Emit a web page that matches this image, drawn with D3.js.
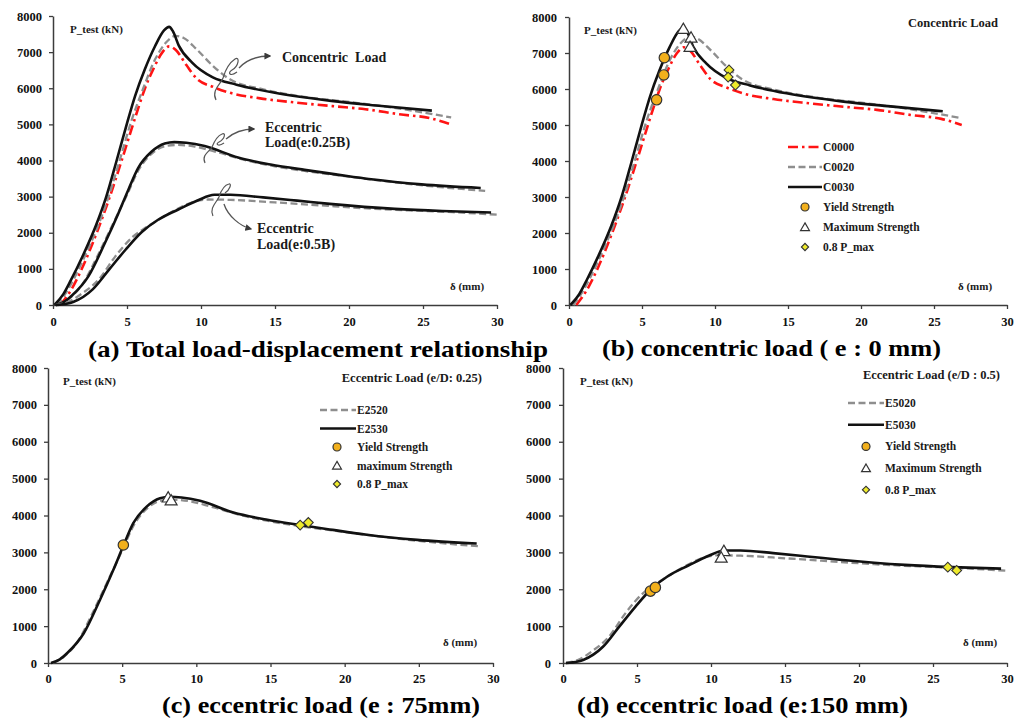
<!DOCTYPE html>
<html>
<head>
<meta charset="utf-8">
<script src="https://cdn.jsdelivr.net/npm/d3@7"></script>
<style>
  body { margin: 0; background: #fff; }
  text { font-weight: bold; fill: #1a1a1a; }
</style>
</head>
<body>
<svg id="chart" width="1017" height="720"></svg>
<script>
// ---- axis ticks ----
const xTicks = [0, 5, 10, 15, 20, 25, 30];
const yTicks = [0, 1000, 2000, 3000, 4000, 5000, 6000, 7000, 8000];

// ---- load–displacement curves: [δ (mm), P (kN)] ----
const C0000 = [[0.5,0],[1.2,400],[2.0,1050],[3.0,2050],[3.8,2950],[4.6,3950],[5.3,4860],[5.8,5500],[6.2,5980],[6.8,6550],[7.4,7000],[7.85,7160],[8.3,7060],[9.0,6650],[9.7,6270],[10.8,6040],[11.9,5880],[14.0,5720],[16.5,5600],[19.0,5500],[21.1,5420],[23.4,5280],[25.5,5170],[26.9,5000]];
const C0020 = [[0.3,0],[1.0,420],[2.0,1220],[3.0,2150],[3.8,3050],[4.5,4000],[5.3,5100],[6.1,6000],[6.9,6800],[7.6,7250],[8.3,7450],[8.8,7400],[9.7,7080],[10.8,6620],[11.9,6260],[14.2,5970],[17.0,5760],[20.0,5620],[23.5,5430],[26.9,5190]];
const C0030 = [[0.1,0],[0.7,300],[1.2,680],[2.0,1350],[2.9,2200],[3.6,3000],[4.3,4000],[5.0,5030],[5.55,5790],[6.2,6520],[6.9,7170],[7.5,7600],[7.85,7700],[8.1,7580],[8.5,7180],[9.4,6710],[10.8,6300],[12.4,6100],[14.9,5880],[18.8,5650],[22.2,5510],[25.6,5380]];
const E2520 = [[0.3,0],[1.0,150],[2.0,580],[3.0,1350],[4.0,2200],[5.0,3050],[5.8,3750],[6.7,4200],[7.6,4400],[8.4,4430],[9.5,4390],[11.0,4240],[13.0,4010],[15.0,3840],[17.0,3710],[19.5,3580],[22.0,3450],[25.0,3310],[29.2,3160]];
const E2530 = [[0.2,0],[0.8,100],[1.3,270],[2.4,800],[3.5,1710],[4.4,2520],[5.1,3200],[5.75,3790],[6.65,4240],[7.55,4470],[8.2,4510],[9.0,4490],[10.25,4400],[12.5,4080],[14.7,3890],[17.0,3740],[19.2,3610],[21.5,3480],[24.9,3340],[28.9,3240]];
const E5020 = [[0.2,0],[1.0,80],[2.0,330],[3.1,710],[4.2,1340],[5.4,1890],[6.3,2150],[7.3,2400],[8.5,2680],[9.6,2870],[10.5,2920],[12.0,2910],[15.0,2840],[18.0,2760],[21.0,2680],[24.0,2620],[27.0,2570],[30.0,2500]];
const E5030 = [[0.2,0],[1.0,40],[1.4,90],[2.7,440],[3.8,985],[4.9,1530],[6.0,2020],[7.1,2360],[8.5,2650],[9.8,2900],[10.9,3050],[12.0,3050],[14.2,2980],[16.5,2890],[18.7,2800],[23.1,2660],[26.3,2600],[29.6,2560]];

// ---- characteristic points ----
const yieldB = [[6.53,6870],[6.49,6390],[6.0,5700]];
const maxB   = [[7.83,7680],[8.36,7440],[8.29,7180]];
const p08B   = [[10.96,6530],[10.9,6330],[11.4,6110]];
const yieldC = [[5.08,3200]];
const maxC   = [[8.1,4500],[8.3,4420]];
const p08C   = [[17.0,3740],[17.55,3810]];
const yieldD = [[5.91,1950],[6.24,2050]];
const maxD   = [[10.87,3050],[10.69,2870]];
const p08D   = [[26.0,2600],[26.6,2510]];

// ---- legend labels ----
const legendB = ["C0000", "C0020", "C0030", "Yield Strength", "Maximum Strength", "0.8 P_max"];
const legendC = ["E2520", "E2530", "Yield Strength", "maximum Strength", "0.8 P_max"];
const legendD = ["E5020", "E5030", "Yield Strength", "Maximum Strength", "0.8 P_max"];

// ---- captions / titles ----
const captions = ["(a) Total load-displacement relationship", "(b) concentric load ( e : 0 mm)",
                  "(c) eccentric load (e : 75mm)", "(d) eccentric load (e:150 mm)"];

// pick the first installed Times-like face
const SERIF = (() => {
  const ctx = document.createElement("canvas").getContext("2d");
  const sample = "Total load-displacement 0123456789 WMmi";
  const w = f => { ctx.font = `bold 20px ${f}`; return ctx.measureText(sample).width; };
  const mono = w("monospace"), sans = w("sans-serif");
  const cands = ["Liberation Serif", "Times New Roman", "Tinos", "Nimbus Roman", "Times", "FreeSerif", "DejaVu Serif"];
  for (const c of cands) {
    if (w(`"${c}", monospace`) !== mono && w(`"${c}", sans-serif`) !== sans) return `"${c}", serif`;
  }
  return "serif";
})();
d3.select("head").append("style").text(`text { font-family: ${SERIF}; }`);

const lineStyle = {
  red:   { stroke: "#ff1414", width: 2.6, dash: "10,4,2.5,4" },
  gray:  { stroke: "#8e8e8e", width: 2.3, dash: "7,3.5" },
  black: { stroke: "#111",    width: 2.6, dash: null }
};

const svg = d3.select("#chart");
const defs = svg.append("defs");
defs.append("marker").attr("id", "arrowhead").attr("viewBox", "0 0 10 10")
  .attr("refX", 8).attr("refY", 5).attr("markerWidth", 7).attr("markerHeight", 7)
  .attr("orient", "auto-start-reverse").attr("markerUnits", "userSpaceOnUse")
  .append("path").attr("d", "M0,0 L10,5 L0,10 Z").attr("fill", "#3a3a3a");

const panels = [
  { x0: 53,  x1: 497,  y0: 305, y1: 16,  xPad: 8, yPad: 7, caption: captions[0], capX: 88,  capW: 460, capY: 357,
    series: [[C0000,"red"],[C0020,"gray"],[C0030,"black"],[E2520,"gray"],[E2530,"black"],[E5020,"gray"],[E5030,"black"]],
    ylab: [70, 33], dlab: [450, 290] },
  { x0: 569, x1: 1007, y0: 305, y1: 17,  xPad: 8, yPad: 8, caption: captions[1], capX: 602, capW: 339, capY: 356,
    series: [[C0000,"red"],[C0020,"gray"],[C0030,"black"]],
    marks: [yieldB, maxB, p08B], title: ["Concentric Load", 998, 27],
    legend: { labels: legendB, styles: ["red","gray","black"], lx: 788, tx: 823, y: 147, step: 20, mx: 805 },
    ylab: [584, 34], dlab: [958, 290] },
  { x0: 48,  x1: 493,  y0: 663, y1: 368, xPad: 7, yPad: 7, caption: captions[2], capX: 162, capW: 318, capY: 713,
    series: [[E2520,"gray"],[E2530,"black"]],
    marks: [yieldC, maxC, p08C], title: ["Eccentric Load (e/D: 0.25)", 482, 382],
    legend: { labels: legendC, styles: ["gray","black"], lx: 320, tx: 357, y: 410, step: 18.5, mx: 337 },
    ylab: [63, 385], dlab: [443, 646] },
  { x0: 563, x1: 1007, y0: 663, y1: 368, xPad: 7, yPad: 8, caption: captions[3], capX: 577, capW: 331, capY: 713,
    series: [[E5020,"gray"],[E5030,"black"]],
    marks: [yieldD, maxD, p08D], title: ["Eccentric Load (e/D : 0.5)", 1000, 379],
    legend: { labels: legendD, styles: ["gray","black"], lx: 848, tx: 885, y: 403, step: 21.7, mx: 866 },
    ylab: [580, 385], dlab: [963, 646] }
];

function drawMarker(g, kind, x, y, small) {
  if (kind === 0) {
    g.append("circle").attr("cx", x).attr("cy", y).attr("r", small ? 4 : 5.2)
      .attr("fill", "#f2b01c").attr("stroke", "#333").attr("stroke-width", 1.2);
  } else if (kind === 1) {
    g.append("path").attr("d", d3.symbol(d3.symbolTriangle, small ? 34 : 62)())
      .attr("transform", `translate(${x},${y + (small ? 1 : 1.5)})`)
      .attr("fill", "#fff").attr("stroke", "#333").attr("stroke-width", 1.2);
  } else {
    g.append("path").attr("d", d3.symbol(d3.symbolSquare, small ? 26 : 48)())
      .attr("transform", `translate(${x},${y}) rotate(45)`)
      .attr("fill", "#eeea2c").attr("stroke", "#333").attr("stroke-width", 1.1);
  }
}

panels.forEach((p, i) => {
  const g = svg.append("g");
  const sx = d3.scaleLinear().domain([0, 30]).range([p.x0, p.x1]);
  const sy = d3.scaleLinear().domain([0, 8000]).range([p.y0, p.y1]);
  p.sx = sx; p.sy = sy;

  const styleAxis = ax => {
    ax.attr("font-family", null).attr("font-size", null);
    ax.select(".domain").attr("stroke", "#3c3c3c").attr("stroke-width", 1.5);
    ax.selectAll(".tick line").attr("stroke", "#3c3c3c").attr("stroke-width", 1.3);
    ax.selectAll("text").style("font-size", "12.5px").style("fill", "#111");
  };
  g.append("g").attr("transform", `translate(0,${p.y0})`)
    .call(d3.axisBottom(sx).tickValues(xTicks).tickFormat(d3.format("d"))
      .tickSize(4).tickSizeOuter(0).tickPadding(p.xPad))
    .call(styleAxis);
  g.append("g").attr("transform", `translate(${p.x0},0)`)
    .call(d3.axisLeft(sy).tickValues(yTicks).tickFormat(d3.format("d"))
      .tickSize(4).tickSizeOuter(0).tickPadding(p.yPad))
    .call(styleAxis);

  const line = d3.line().x(d => sx(d[0])).y(d => sy(d[1])).curve(d3.curveMonotoneX);
  p.series.forEach(([data, st]) => {
    const s = lineStyle[st];
    g.append("path").datum(data).attr("d", line).attr("fill", "none")
      .attr("stroke", s.stroke).attr("stroke-width", s.width)
      .attr("stroke-dasharray", s.dash).attr("stroke-linejoin", "round");
  });

  if (p.marks) {
    p.marks.forEach((set, k) => set.forEach(d => drawMarker(g, k, sx(d[0]), sy(d[1]), false)));
  }

  // axis captions
  g.append("text").attr("x", p.ylab[0]).attr("y", p.ylab[1]).style("font-size", "11px").text("P_test (kN)");
  g.append("text").attr("x", p.dlab[0]).attr("y", p.dlab[1]).style("font-size", "11px").text("δ (mm)");

  if (p.title) {
    g.append("text").attr("x", p.title[1]).attr("y", p.title[2]).attr("text-anchor", "end")
      .style("font-size", "12.5px").text(p.title[0]);
  }

  if (p.legend) {
    const L = p.legend;
    const nLines = L.styles.length;
    L.labels.forEach((lab, k) => {
      const yy = L.y + k * L.step;
      if (k < nLines) {
        const s = lineStyle[L.styles[k]];
        g.append("line").attr("x1", L.lx).attr("x2", L.tx - 1).attr("y1", yy).attr("y2", yy)
          .attr("stroke", s.stroke).attr("stroke-width", s.width).attr("stroke-dasharray", s.dash);
      } else {
        drawMarker(g, k - nLines, L.mx, yy, true);
      }
      g.append("text").attr("x", L.tx).attr("y", yy + 4).style("font-size", "11.5px").text(lab);
    });
  }

  g.append("text").attr("x", p.capX).attr("y", p.capY)
    .attr("textLength", p.capW).attr("lengthAdjust", "spacingAndGlyphs")
    .style("font-size", "23px").style("fill", "#000").text(p.caption);
});

// ---- callouts in the overview panel ----
const A = panels[0];
const callouts = [
  { at: [11.69, 6228], text: [15.47, 6727], lines: ["Concentric  Load"],
    squiggle: "M-10,20 C-15,10 -5,4 -3,-2 C-1,-9 3,-17 9,-21 C14,-24 13,-14 6,-10 C1,-7 4,-3 11,-8",
    arrow: "M13,-12 C20,-20 32,-24 44,-24" },
  { at: [10.88, 4346], text: [14.32, 4789], lines: ["Eccentric", "Load(e:0.25B)"],
    squiggle: "M-9,15 C-13,7 -4,3 -2,-1 C0,-6 3,-12 8,-14 C12,-16 11,-9 5,-6 C1,-4 4,-1 10,-5",
    arrow: "M12,-9 C20,-16 30,-19 40,-19" },
  { at: [11.28, 2907], text: [13.78, 1993], lines: ["Eccentric", "Load(e:0.5B)"],
    squiggle: "M-7,16 C-11,8 -3,2 -1,-3 C1,-9 4,-15 9,-16 C12,-17 10,-10 5,-7",
    arrow: "M4,4 C8,16 20,26 31,29" }
];
callouts.forEach(c => {
  const cx = A.sx(c.at[0]), cy = A.sy(c.at[1]);
  const g = svg.append("g").attr("transform", `translate(${cx},${cy})`);
  g.append("path").attr("d", c.squiggle).attr("fill", "none").attr("stroke", "#555").attr("stroke-width", 1.2);
  g.append("path").attr("d", c.arrow).attr("fill", "none").attr("stroke", "#555").attr("stroke-width", 1.3)
    .attr("marker-end", "url(#arrowhead)");
  const tx = A.sx(c.text[0]), ty = A.sy(c.text[1]);
  c.lines.forEach((t, k) => {
    svg.append("text").attr("x", tx).attr("y", ty + k * 15.5).style("font-size", "14px")
      .style("white-space", "pre").text(t);
  });
});
</script>
</body>
</html>
